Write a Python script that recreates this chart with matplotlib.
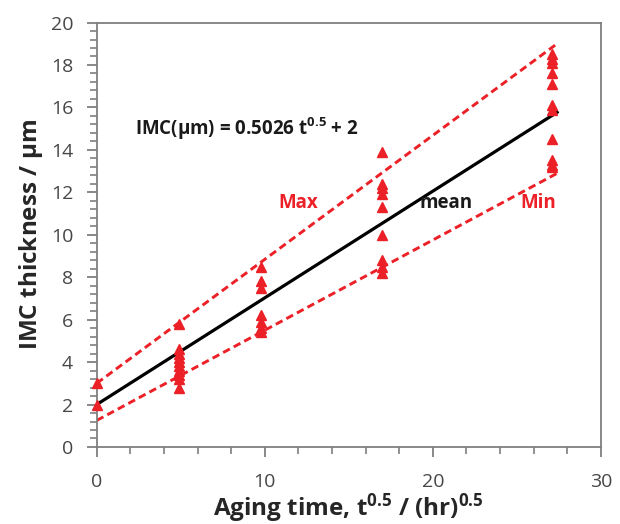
import numpy as np
import matplotlib

matplotlib.use("Agg")
import matplotlib.pyplot as plt
from matplotlib.ticker import MultipleLocator

FONT = "Open Sans"
plt.rcParams["font.family"] = [FONT, "DejaVu Sans"]
plt.rcParams["mathtext.fontset"] = "custom"
plt.rcParams["mathtext.rm"] = FONT
plt.rcParams["mathtext.bf"] = FONT + ":bold"
plt.rcParams["mathtext.default"] = "regular"

RED = "#ec2027"
GRAY = "#7f7f7f"
TXT = "#474747"

# aging time, t^0.5 / (hr)^0.5, and measured IMC thickness (um)
t_sqrt = [0.0, 4.9, 9.8, 16.97, 27.1]
imc = [
    [3.0, 2.0],
    [5.8, 4.6, 4.4, 4.2, 4.0, 3.8, 3.6, 3.4, 3.2, 2.8],
    [8.5, 7.8, 7.5, 6.2, 5.9, 5.6, 5.4],
    [13.9, 12.4, 12.2, 11.9, 11.3, 10.0, 8.8, 8.5, 8.2],
    [18.5, 18.3, 18.1, 17.6, 17.1, 16.1, 15.9, 14.5, 13.5, 13.3, 13.2],
]

# fitted lines: (slope, intercept)
fit_names = ["mean", "Max", "Min"]
fit_slope = [0.5026, 0.584, 0.425]
fit_icpt = [2.0, 3.0, 1.25]
fit_xend = [0.0, 27.4]

fig = plt.figure(figsize=(6.2, 5.24), dpi=100)
ax = fig.add_axes([0.156, 0.147, 0.813, 0.810])

xs = np.array(fit_xend)
for name, m, b in zip(fit_names, fit_slope, fit_icpt):
    if name == "mean":
        ax.plot(xs, m * xs + b, color="black", lw=2.3, zorder=3)
    else:
        ax.plot(xs, m * xs + b, color=RED, lw=2.1, dashes=(2.6, 1.5),
                zorder=2)

for x, ys in zip(t_sqrt, imc):
    ax.plot([x] * len(ys), ys, ls="none", marker="^", ms=7,
            color=RED, mec=RED, zorder=4, clip_on=False)

ax.text(2.3, 15.0, r"IMC($\mu$m) = 0.5026 t$^{0.5}$ + 2", fontsize=13.5,
        fontweight="bold", color="#1a1a1a", va="center")
ax.text(12.0, 11.5, "Max", fontsize=13.5, fontweight="bold", color=RED,
        ha="center", va="center")
ax.text(20.8, 11.5, "mean", fontsize=13.5, fontweight="bold",
        color="#1a1a1a", ha="center", va="center")
ax.text(26.3, 11.5, "Min", fontsize=13.5, fontweight="bold", color=RED,
        ha="center", va="center")

ax.set_xlim(0, 30)
ax.set_ylim(0, 20)
ax.xaxis.set_major_locator(MultipleLocator(10))
ax.xaxis.set_minor_locator(MultipleLocator(2))
ax.yaxis.set_major_locator(MultipleLocator(2))
ax.yaxis.set_minor_locator(MultipleLocator(0.4))
for s in ax.spines.values():
    s.set_color(GRAY)
    s.set_linewidth(1.3)
ax.tick_params(which="major", direction="out", length=7, width=1.3,
               color=GRAY, labelsize=14, labelcolor=TXT)
ax.tick_params(axis="x", which="major", pad=12)
ax.tick_params(axis="y", which="major", pad=10)
ax.tick_params(which="minor", direction="out", length=5, width=1.2,
               color=GRAY)
ax.tick_params(top=False, right=False, which="both")

ax.set_xlabel(r"Aging time, t$^{0.5}$ / (hr)$^{0.5}$", fontsize=17.5,
              fontweight="bold", color="#262626", labelpad=0)
ax.set_ylabel(r"IMC thickness / $\mu$m", fontsize=17.5,
              fontweight="bold", color="#262626", labelpad=4)

fig.savefig("out.png", dpi=100, facecolor="white")
